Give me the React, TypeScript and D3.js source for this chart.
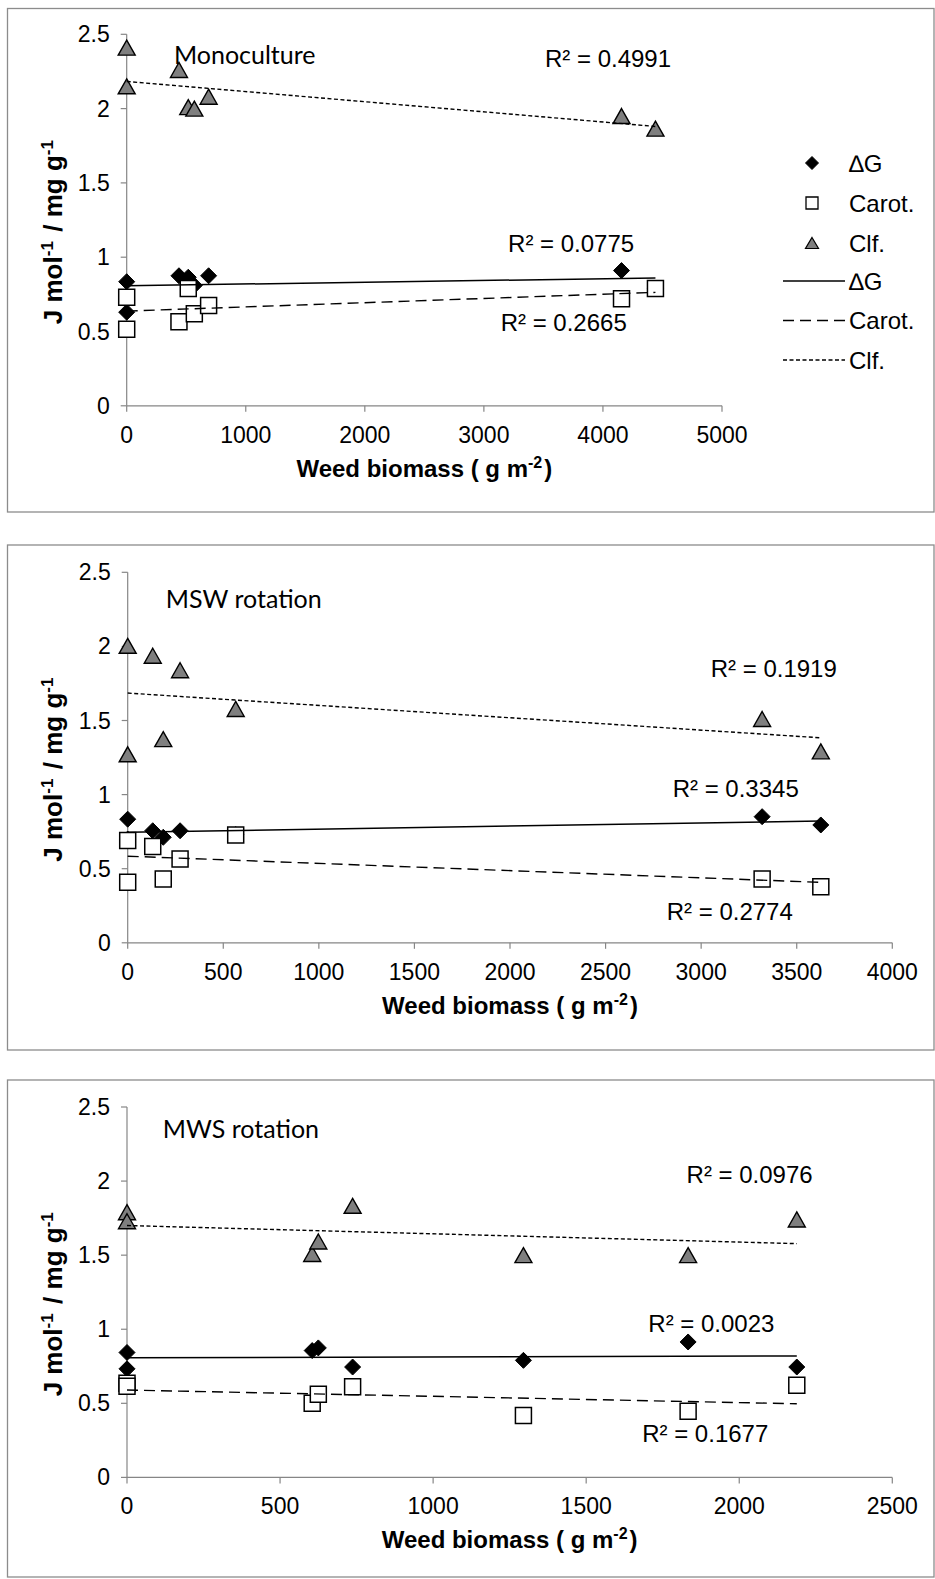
import React from "react";
import * as d3 from "d3";

// Monoculture
const monoBiomass = [0, 0, 439, 517, 568, 688, 4156, 4441];
const monoDeltaG = [0.835, 0.63, 0.875, 0.865, 0.81, 0.875, 0.91, 0.79];
const monoCarot = [0.73, 0.515, 0.565, 0.79, 0.62, 0.675, 0.72, 0.79];
const monoClf = [2.41, 2.15, 2.26, 2.01, 2.0, 2.08, 1.95, 1.865];

// MSW rotation
const mswBiomass = [0, 0, 131, 186, 274, 565, 3319, 3626];
const mswDeltaG = [0.834, 0.7, 0.756, 0.712, 0.756, 0.73, 0.851, 0.795];
const mswCarot = [0.69, 0.409, 0.649, 0.431, 0.565, 0.727, 0.431, 0.379];
const mswClf = [2.004, 1.272, 1.937, 1.374, 1.839, 1.578, 1.51, 1.292];

// MWS rotation
const mwsBiomass = [0, 0, 605, 625, 737, 1295, 1833, 2188];
const mwsDeltaG = [0.843, 0.733, 0.856, 0.874, 0.745, 0.79, 0.914, 0.745];
const mwsCarot = [0.635, 0.615, 0.5, 0.561, 0.612, 0.417, 0.446, 0.622];
const mwsClf = [1.79, 1.729, 1.508, 1.592, 1.833, 1.5, 1.5, 1.741];

const yTicks = [0, 0.5, 1, 1.5, 2, 2.5];
const monoXTicks = [0, 1000, 2000, 3000, 4000, 5000];
const mswXTicks = [0, 500, 1000, 1500, 2000, 2500, 3000, 3500, 4000];
const mwsXTicks = [0, 500, 1000, 1500, 2000, 2500];

const seriesNames = ["\u2206G", "Carot.", "Clf."];

// r² labels, in data units of each panel
const monoNotes = [
  { text: "Monoculture", x: 397, y: 2.298, title: true },
  { text: "R\u00b2 = 0.4991", x: 3513, y: 2.282 },
  { text: "R\u00b2 = 0.0775", x: 3203, y: 1.037 },
  { text: "R\u00b2 = 0.2665", x: 3141, y: 0.503 },
];
const mswNotes = [
  { text: "MSW rotation", x: 199, y: 2.257, title: true },
  { text: "R\u00b2 = 0.1919", x: 3050, y: 1.791 },
  { text: "R\u00b2 = 0.3345", x: 2851, y: 0.986 },
  { text: "R\u00b2 = 0.2774", x: 2820, y: 0.154 },
];
const mwsNotes = [
  { text: "MWS rotation", x: 117, y: 2.293, title: true },
  { text: "R\u00b2 = 0.0976", x: 1828, y: 1.989 },
  { text: "R\u00b2 = 0.0023", x: 1703, y: 0.983 },
  { text: "R\u00b2 = 0.1677", x: 1683, y: 0.237 },
];

const FONT = "'Liberation Sans', Arial, sans-serif";
const TITLE_FONT = "Lato, 'Open Sans', sans-serif";
const AXIS_GREY = "#868686";
const TRI_FILL = "#7f7f7f";

const DASH_CAROT = "11,6";
const DASH_CLF = "4,2.5";

// least squares fit, like Excel's linear trendline
const fit = (xs: number[], ys: number[]) => {
  const mx = d3.mean(xs)!;
  const my = d3.mean(ys)!;
  let sxy = 0,
    sxx = 0;
  xs.forEach((x, i) => {
    sxy += (x - mx) * (ys[i] - my);
    sxx += (x - mx) * (x - mx);
  });
  const slope = sxy / sxx;
  const icept = my - slope * mx;
  const [x0, x1] = d3.extent(xs) as [number, number];
  return [
    [x0, icept + slope * x0],
    [x1, icept + slope * x1],
  ];
};

const triangle = (w: number, h: number) => `M0,${-h / 2}L${w / 2},${h / 2}L${-w / 2},${h / 2}Z`;
const diamond = (s: number) => `M0,${-s / 2}L${s / 2},0L0,${s / 2}L${-s / 2},0Z`;
const square = (s: number) => `M${-s / 2},${-s / 2}h${s}v${s}h${-s}Z`;

const Sup = ({ children, size = 16 }: { children: string; size?: number }) => (
  <>
    <tspan dy={-9} fontSize={size}>
      {children}
    </tspan>
    <tspan dy={9}>{"\u200a"}</tspan>
  </>
);

type PanelProps = {
  frame: [number, number];
  plot: { left: number; right: number; top: number; bottom: number };
  xMax: number;
  xTicks: number[];
  biomass: number[];
  deltaG: number[];
  carot: number[];
  clf: number[];
  notes: { text: string; x: number; y: number; title?: boolean }[];
  legend?: boolean;
};

const Panel = ({ frame, plot, xMax, xTicks, biomass, deltaG, carot, clf, notes, legend }: PanelProps) => {
  const x = d3.scaleLinear().domain([0, xMax]).range([plot.left, plot.right]);
  const y = d3.scaleLinear().domain([0, 2.5]).range([plot.bottom, plot.top]);
  const line = d3
    .line<number[]>()
    .x(d => x(d[0]))
    .y(d => y(d[1]));

  const midY = (plot.top + plot.bottom) / 2 + 11;
  const midX = (plot.left + plot.right) / 2;

  return (
    <g>
      <rect x={7.5} y={frame[0]} width={926.5} height={frame[1] - frame[0]} fill="white" stroke="#8c8c8c" strokeWidth={1.3} />

      {/* axes */}
      <line x1={plot.left} x2={plot.left} y1={y(2.5)} y2={y(0)} stroke={AXIS_GREY} strokeWidth={1.2} />
      <line x1={plot.left} x2={x(xMax)} y1={y(0)} y2={y(0)} stroke={AXIS_GREY} strokeWidth={1.2} />
      {yTicks.map(t => (
        <g key={"y" + t}>
          <line x1={plot.left - 6} x2={plot.left} y1={y(t)} y2={y(t)} stroke={AXIS_GREY} strokeWidth={1.2} />
          <text x={plot.left - 17} y={y(t) + 8} textAnchor="end" fontFamily={FONT} fontSize={23}>
            {t}
          </text>
        </g>
      ))}
      {xTicks.map(t => (
        <g key={"x" + t}>
          <line x1={x(t)} x2={x(t)} y1={y(0)} y2={y(0) + 6} stroke={AXIS_GREY} strokeWidth={1.2} />
          <text x={x(t)} y={y(0) + 37} textAnchor="middle" fontFamily={FONT} fontSize={23}>
            {t}
          </text>
        </g>
      ))}

      <text x={midX} y={y(0) + 71} textAnchor="middle" fontFamily={FONT} fontSize={24} fontWeight="bold">
        Weed biomass ( g m<Sup>-2</Sup>)
      </text>
      <text
        transform={`translate(62,${midY}) rotate(-90)`}
        textAnchor="middle"
        fontFamily={FONT}
        fontSize={26}
        fontWeight="bold"
      >
        J mol<Sup size={17}>-1</Sup> / mg g<Sup size={17}>-1</Sup>
      </text>

      {/* markers */}
      {biomass.map((b, i) => (
        <path key={"dg" + i} d={diamond(16)} transform={`translate(${x(b)},${y(deltaG[i])})`} fill="black" stroke="black" />
      ))}
      {biomass.map((b, i) => (
        <path key={"ca" + i} d={square(16)} transform={`translate(${x(b)},${y(carot[i])})`} fill="white" stroke="black" strokeWidth={1.5} />
      ))}
      {biomass.map((b, i) => (
        <path key={"cl" + i} d={triangle(17, 15)} transform={`translate(${x(b)},${y(clf[i])})`} fill={TRI_FILL} stroke="black" strokeWidth={1.4} />
      ))}

      {/* trendlines */}
      <path d={line(fit(biomass, deltaG))!} fill="none" stroke="black" strokeWidth={1.5} />
      <path d={line(fit(biomass, carot))!} fill="none" stroke="black" strokeWidth={1.4} strokeDasharray={DASH_CAROT} />
      <path d={line(fit(biomass, clf))!} fill="none" stroke="black" strokeWidth={1.4} strokeDasharray={DASH_CLF} />

      {notes.map(n => (
        <text
          key={n.text}
          x={x(n.x)}
          y={y(n.y)}
          fontFamily={n.title ? TITLE_FONT : FONT}
          fontSize={n.title ? 25 : 24}
        >
          {n.text}
        </text>
      ))}

      {legend && (
        <g fontFamily={FONT} fontSize={24}>
          {seriesNames.map((name, i) => {
            const cy = 163 + i * 40;
            const mark =
              i === 0 ? (
                <path d={diamond(13)} fill="black" stroke="black" />
              ) : i === 1 ? (
                <path d={square(12)} fill="white" stroke="black" strokeWidth={1.3} />
              ) : (
                <path d={triangle(13, 11)} fill={TRI_FILL} stroke="black" strokeWidth={1.2} />
              );
            return (
              <g key={"m" + i}>
                <g transform={`translate(812,${cy})`}>{mark}</g>
                <text x={849} y={cy + 8.5}>
                  {name}
                </text>
              </g>
            );
          })}
          {seriesNames.map((name, i) => {
            const cy = 281 + i * 39.5;
            const dash = i === 0 ? undefined : i === 1 ? DASH_CAROT : DASH_CLF;
            return (
              <g key={"l" + i}>
                <line x1={783} x2={845} y1={cy} y2={cy} stroke="black" strokeWidth={1.4} strokeDasharray={dash} />
                <text x={849} y={cy + 8.5}>
                  {name}
                </text>
              </g>
            );
          })}
        </g>
      )}
    </g>
  );
};

const App = () => {
  return (
    <svg
      width={935}
      height={1579}
      style={{ position: "absolute", left: 0, top: 0, background: "white" }}
    >
      <Panel
        frame={[8.5, 512]}
        plot={{ left: 126.7, right: 722, top: 34.3, bottom: 405.8 }}
        xMax={5000}
        xTicks={monoXTicks}
        biomass={monoBiomass}
        deltaG={monoDeltaG}
        carot={monoCarot}
        clf={monoClf}
        notes={monoNotes}
        legend
      />
      <Panel
        frame={[545, 1050]}
        plot={{ left: 127.7, right: 892.3, top: 572.3, bottom: 942.8 }}
        xMax={4000}
        xTicks={mswXTicks}
        biomass={mswBiomass}
        deltaG={mswDeltaG}
        carot={mswCarot}
        clf={mswClf}
        notes={mswNotes}
      />
      <Panel
        frame={[1080, 1577]}
        plot={{ left: 127, right: 892.3, top: 1107, bottom: 1477.4 }}
        xMax={2500}
        xTicks={mwsXTicks}
        biomass={mwsBiomass}
        deltaG={mwsDeltaG}
        carot={mwsCarot}
        clf={mwsClf}
        notes={mwsNotes}
      />
    </svg>
  );
};

export default App;
